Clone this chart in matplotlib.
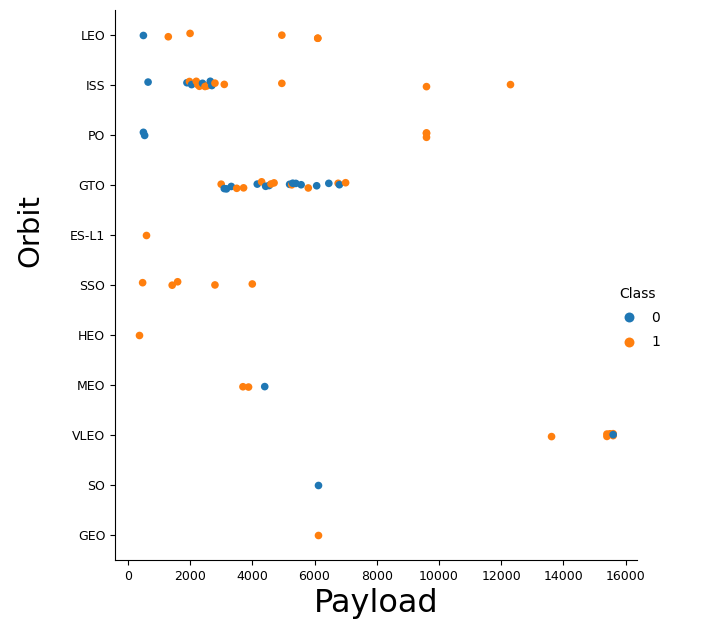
import numpy as np
import pandas as pd
import matplotlib
matplotlib.use("Agg")
import matplotlib.pyplot as plt
import seaborn as sns

orbits = ["LEO", "ISS", "PO", "GTO", "ES-L1", "SSO", "HEO", "MEO", "VLEO", "SO", "GEO"]

# payload mass (kg) and landing class per orbit
leo_payload = [500, 1300, 2000, 4950, 6105, 6105]
leo_class = [0, 1, 1, 1, 1, 1]

iss_payload = [650, 1900, 1980, 2050, 2200, 2250, 2300, 2400, 2480, 2550,
               2650, 2700, 2800, 3100, 4950, 9600, 12300]
iss_class = [0, 0, 1, 0, 1, 1, 1, 0, 1, 1, 0, 0, 1, 1, 1, 1, 1]

po_payload = [500, 540, 9600, 9600, 9600]
po_class = [0, 0, 1, 1, 1]

gto_payload = [3000, 3100, 3170, 3325, 3500, 3720, 4160, 4300, 4430, 4540,
               4600, 4700, 5200, 5270, 5300, 5400, 5570, 5800, 6070, 6460,
               6760, 6800, 7000]
gto_class = [1, 0, 0, 0, 1, 1, 0, 1, 0, 0, 1, 1, 0, 1, 0, 0, 0, 1, 0, 0,
             1, 0, 1]

esl1_payload = [570]
esl1_class = [1]

sso_payload = [475, 1425, 1600, 2800, 4000]
sso_class = [1, 1, 1, 1, 1]

heo_payload = [350]
heo_class = [1]

meo_payload = [3700, 3880, 4400]
meo_class = [1, 1, 0]

vleo_payload = [13620, 15400, 15400, 15500, 15600, 15600, 15600]
vleo_class = [1, 1, 1, 1, 1, 1, 0]

so_payload = [6105]
so_class = [0]

geo_payload = [6105]
geo_class = [1]

payloads = [leo_payload, iss_payload, po_payload, gto_payload, esl1_payload,
            sso_payload, heo_payload, meo_payload, vleo_payload, so_payload,
            geo_payload]
classes = [leo_class, iss_class, po_class, gto_class, esl1_class, sso_class,
           heo_class, meo_class, vleo_class, so_class, geo_class]

rows = []
for orb, pl, cl in zip(orbits, payloads, classes):
    for p, c in zip(pl, cl):
        rows.append((orb, p, c))
df = pd.DataFrame(rows, columns=["Orbit", "Payload", "Class"])

np.random.seed(3)
fig = plt.figure(figsize=(7.1, 6.3), dpi=100)
ax = fig.add_axes([0.162, 0.111, 0.735, 0.873])

sns.stripplot(data=df, x="Payload", y="Orbit", hue="Class", order=orbits,
              palette={0: "#1f77b4", 1: "#ff7f0e"}, size=5.5, jitter=0.08,
              ax=ax)

ax.spines["top"].set_visible(False)
ax.spines["right"].set_visible(False)
ax.set_xlabel("Payload", fontsize=23)
ax.set_ylabel("Orbit", fontsize=21)
ax.xaxis.set_label_coords(0.5, -0.05)
ax.yaxis.set_label_coords(-0.135, 0.6)
ax.tick_params(labelsize=9)
ax.set_xticks(range(0, 16001, 2000))

ax.legend(title="Class", loc="center left", bbox_to_anchor=(0.935, 0.44),
          frameon=False, markerscale=1.3, fontsize=10, title_fontsize=10,
          labelspacing=0.75, handletextpad=0.6)

fig.savefig("out.png", dpi=100)
